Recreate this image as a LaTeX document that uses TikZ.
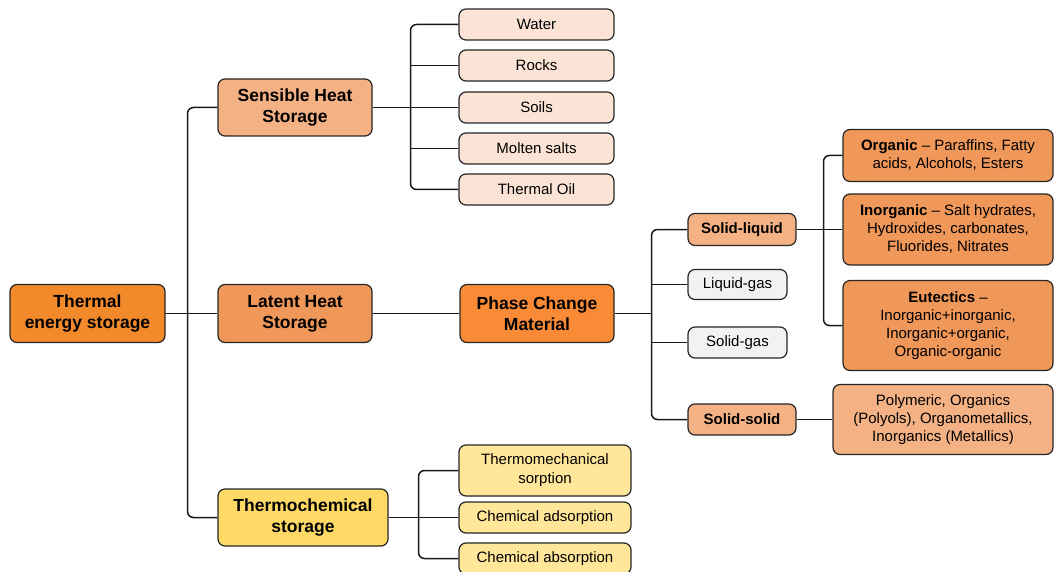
\documentclass[tikz,border=0pt]{standalone}
\usepackage{fontspec}
\setmainfont{Liberation Sans}
\definecolor{tesorange}{HTML}{F28A2C}
\definecolor{pcmorange}{HTML}{F98B37}
\definecolor{latorange}{HTML}{F0975A}
\definecolor{peach}{HTML}{F4B183}
\definecolor{lightpeach}{HTML}{FBE4D6}
\definecolor{gold}{HTML}{FFD966}
\definecolor{lightgold}{HTML}{FFE699}
\definecolor{lightgrey}{HTML}{F2F2F2}
\tikzset{
  box/.style={draw=black!85, line width=1.2pt, rounded corners=7pt, align=center, inner sep=0pt},
  topbox/.style={box, minimum width=155pt, minimum height=58pt, font=\fontsize{17.5}{21}\selectfont\bfseries},
  leafbox/.style={box, minimum width=155pt, minimum height=31pt, font=\fontsize{15}{19}\selectfont},
  statebox/.style={box, minimum width=99pt, minimum height=31pt, font=\fontsize{15}{18}\selectfont},
  typebox/.style={box, minimum width=210pt, font=\fontsize{15}{18}\selectfont},
  link/.style={line width=1.5pt, black!90},
  elbow/.style={link, rounded corners=6pt}
}
\begin{document}
\begin{tikzpicture}[x=1pt, y=-1pt]
\useasboundingbox (0,0) rectangle (1054,572);
% first level
\node[topbox, fill=tesorange] (tes) at (87.5,313.5) {Thermal\\energy storage};
\node[topbox, fill=peach, minimum width=154pt, minimum height=57pt] (sens) at (295,107.5) {Sensible Heat\\Storage};
\node[topbox, fill=latorange, minimum width=154pt] (lat) at (295,313.5) {Latent Heat\\Storage};
\node[topbox, fill=gold, minimum width=170pt, minimum height=57pt] (thermo) at (303,517.5) {Thermochemical\\storage};
% sensible heat
\node[leafbox, fill=lightpeach] (water) at (536.5,24.5) {Water};
\node[leafbox, fill=lightpeach] (rocks) at (536.5,65.5) {Rocks};
\node[leafbox, fill=lightpeach] (soils) at (536.5,107.5) {Soils};
\node[leafbox, fill=lightpeach] (salts) at (536.5,148.5) {Molten salts};
\node[leafbox, fill=lightpeach] (oil) at (536.5,189.5) {Thermal Oil};
% latent heat
\node[topbox, fill=pcmorange, minimum width=154pt] (pcm) at (537,313.5) {Phase Change\\Material};
\node[statebox, fill=peach, minimum width=108pt, minimum height=32pt, font=\fontsize{15}{18}\selectfont\bfseries] (sl) at (742,229.5) {Solid-liquid};
\node[statebox, fill=lightgrey, minimum height=30pt] (lg) at (737.5,284.5) {Liquid-gas};
\node[statebox, fill=lightgrey] (sg) at (737.5,342.5) {Solid-gas};
\node[statebox, fill=peach, minimum width=108pt, font=\fontsize{15}{18}\selectfont\bfseries] (ss) at (742,419.5) {Solid-solid};
\node[typebox, fill=latorange, minimum height=52pt] (org) at (948,155.5) {\textbf{Organic} -- Paraffins, Fatty\\acids, Alcohols, Esters};
\node[typebox, fill=latorange, minimum height=71pt] (inorg) at (948,229.5) {\textbf{Inorganic} -- Salt hydrates,\\Hydroxides, carbonates,\\Fluorides, Nitrates};
\node[typebox, fill=latorange, minimum height=90pt] (eut) at (948,325.5) {\textbf{Eutectics} --\\Inorganic+inorganic,\\Inorganic+organic,\\Organic-organic};
\node[typebox, fill=peach, minimum width=220pt, minimum height=70pt] (poly) at (943,419.5) {Polymeric, Organics\\(Polyols), Organometallics,\\Inorganics (Metallics)};
% thermochemical
\node[leafbox, fill=lightgold, minimum width=172pt, minimum height=51pt] (tms) at (545,470.5) {Thermomechanical\\sorption};
\node[leafbox, fill=lightgold, minimum width=172pt] (cads) at (545,517.5) {Chemical adsorption};
\node[leafbox, fill=lightgold, minimum width=172pt] (cabs) at (545,558.5) {Chemical absorption};
% junctions
\coordinate (tj) at (187.5,313.5);
\coordinate (sj) at (410.5,107.5);
\coordinate (pj) at (651.5,313.5);
\coordinate (lj) at (823.5,229.5);
\coordinate (cj) at (418.5,517.5);
% connectors
\draw[elbow] (sens.west) -| (tj) |- (thermo.west);
\draw[link] (tes.east) -- (lat.west);
\draw[elbow] (water.west) -| (sj) |- (oil.west);
\draw[link] (rocks.west) -- (rocks.west -| sj);
\draw[link] (salts.west) -- (salts.west -| sj);
\draw[link] (sens.east) -- (soils.west);
\draw[link] (lat.east) -- (pcm.west);
\draw[elbow] (sl.west) -| (pj) |- (ss.west);
\draw[link] (lg.west) -- (lg.west -| pj);
\draw[link] (sg.west) -- (sg.west -| pj);
\draw[link] (pcm.east) -- (pj);
\draw[elbow] (org.west) -| (lj) |- (eut.west);
\draw[link] (sl.east) -- (inorg.west);
\draw[link] (ss.east) -- (poly.west);
\draw[elbow] (tms.west) -| (cj) |- (cabs.west);
\draw[link] (thermo.east) -- (cads.west);
\end{tikzpicture}
\end{document}
